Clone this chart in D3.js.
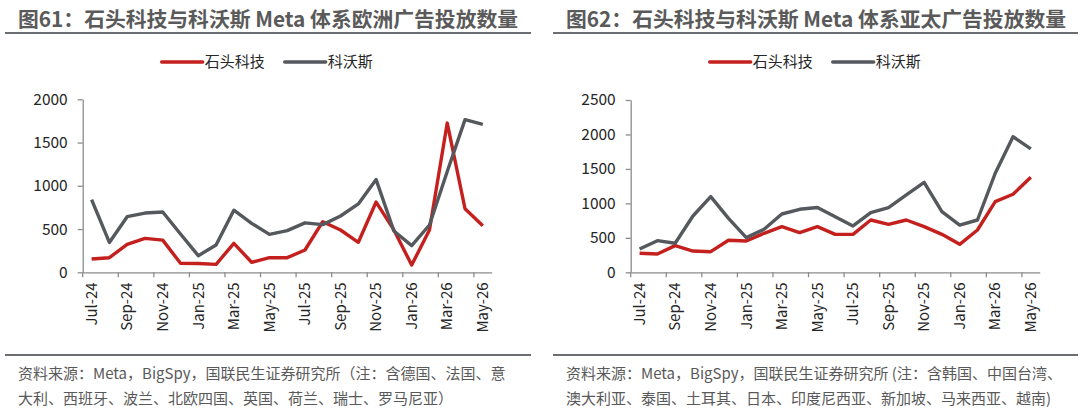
<!DOCTYPE html>
<html>
<head>
<meta charset="utf-8">
<script src="https://d3js.org/d3.v7.min.js"></script>
<style type="text/css">
    body {
        margin: 0;
        background: #ffffff;
    }

    #chart text {
        font-family: "Noto Sans CJK SC", "Noto Sans", sans-serif;
    }

    .chart-title {
        font-size: 20.8px;
        font-weight: bold;
        fill: #5a5a5a;
    }

    .chart-note {
        font-size: 15px;
        fill: #595959;
    }

    .chart-legend {
        font-size: 15px;
        fill: #262626;
    }

    .chart-axis text {
        font-size: 15.5px;
        fill: #262626;
    }

    .chart-axis path,
    .chart-axis line {
        stroke: #8c8c8c;
        stroke-width: 1.3px;
    }
</style>
</head>
<body>
<div id="chart"></div>
<script>
    // months on the x axis
    var months = ["Jul-24", "Aug-24", "Sep-24", "Oct-24", "Nov-24", "Dec-24",
        "Jan-25", "Feb-25", "Mar-25", "Apr-25", "May-25", "Jun-25",
        "Jul-25", "Aug-25", "Sep-25", "Oct-25", "Nov-25", "Dec-25",
        "Jan-26", "Feb-26", "Mar-26", "Apr-26", "May-26"];

    // Europe
    var euRoborock = [154, 169, 324, 392, 372, 104, 102, 92, 335, 116, 169, 169,
        258, 585, 489, 347, 812, 490, 84, 489, 1725, 735, 539];
    var euEcovacs = [840, 345, 643, 685, 697, 443, 192, 316, 718, 566, 439, 482,
        572, 551, 651, 790, 1072, 477, 308, 547, 1165, 1765, 1711];
    var euTicks = [0, 500, 1000, 1500, 2000];

    // Asia Pacific
    var apRoborock = [276, 266, 387, 309, 299, 465, 455, 566, 662, 575, 662, 551,
        551, 759, 696, 759, 662, 551, 406, 614, 1025, 1132, 1379];
    var apEcovacs = [338, 459, 421, 817, 1098, 783, 503, 624, 846, 914, 940, 807,
        672, 865, 938, 1122, 1306, 880, 686, 759, 1437, 1968, 1790];
    var apTicks = [0, 500, 1000, 1500, 2000, 2500];

    var seriesNames = ["石头科技", "科沃斯"];
    var color = d3.scaleOrdinal()
        .domain(seriesNames)
        .range(["#c3201e", "#55585c"]);

    var svg = d3.select("#chart")
        .append("svg")
        .attr("width", 1080)
        .attr("height", 414);

    var drawPanel = function(p) {
        var g = svg.append("g");

        // title + rules
        g.append("text")
            .attr("class", "chart-title")
            .attr("x", p.titleX)
            .attr("y", 27)
            .text(p.title);
        g.append("line")
            .attr("x1", p.ruleX1).attr("x2", p.ruleX2)
            .attr("y1", 33).attr("y2", 33)
            .attr("stroke", "#6b6e72").attr("stroke-width", 2);
        g.append("line")
            .attr("x1", p.ruleX1).attr("x2", p.ruleX2)
            .attr("y1", 355).attr("y2", 355)
            .attr("stroke", "#6b6e72").attr("stroke-width", 2);

        var x = d3.scaleBand()
            .domain(months)
            .range([p.left, p.left + 409])
            .padding(0);
        var y = d3.scaleLinear()
            .domain([0, p.ticks[p.ticks.length - 1]])
            .range([272.3, p.top]);

        // y axis
        g.append("g")
            .attr("class", "chart-axis")
            .attr("transform", "translate(" + p.left + ",0)")
            .call(d3.axisLeft(y).tickValues(p.ticks).tickFormat(d3.format("d"))
                .tickSize(5).tickSizeOuter(0).tickPadding(10));

        // x axis, labels every other month
        var xAxis = g.append("g")
            .attr("class", "chart-axis")
            .attr("transform", "translate(0,272.3)")
            .call(d3.axisBottom(x)
                .tickValues(months.filter(function(d, i) { return i % 2 == 0; }))
                .tickSize(0).tickSizeOuter(0));
        xAxis.selectAll("text")
            .attr("x", -10)
            .attr("y", 0)
            .attr("dy", "0.35em")
            .attr("transform", "rotate(-90)")
            .style("text-anchor", "end")
            .style("font-size", "15px");
        // tick marks sit between categories
        xAxis.selectAll(".between-tick")
            .data(months.filter(function(d, i) { return i % 2 == 0; }))
            .enter().append("line")
            .attr("class", "between-tick")
            .attr("x1", function(d) { return x(d); })
            .attr("x2", function(d) { return x(d); })
            .attr("y1", 0)
            .attr("y2", 5);

        // grey drawn after red, like the reference
        var line = d3.line()
            .x(function(d, i) { return x(months[i]) + x.bandwidth() / 2; })
            .y(function(d) { return y(d); });
        var series = [{ name: seriesNames[0], values: p.red }, { name: seriesNames[1], values: p.grey }];
        g.selectAll(".series")
            .data(series)
            .enter().append("path")
            .attr("class", "series")
            .attr("fill", "none")
            .attr("stroke", function(d) { return color(d.name); })
            .attr("stroke-width", 3.4)
            .attr("stroke-linejoin", "round")
            .attr("d", function(d) { return line(d.values); });

        // legend
        var lg = g.selectAll(".legend-item")
            .data(series)
            .enter().append("g")
            .attr("class", "legend-item")
            .attr("transform", function(d, i) { return "translate(" + (p.left + 79 + i * 123) + ",62)"; });
        lg.append("line")
            .attr("x1", 0).attr("x2", 41)
            .attr("stroke", function(d) { return color(d.name); })
            .attr("stroke-width", 3.4)
            .attr("stroke-linecap", "round");
        lg.append("text")
            .attr("class", "chart-legend")
            .attr("x", 43)
            .attr("dy", "0.35em")
            .text(function(d) { return d.name; });

        // source note
        g.selectAll(".chart-note")
            .data(p.note)
            .enter().append("text")
            .attr("class", "chart-note")
            .attr("x", p.titleX)
            .attr("y", function(d, i) { return 379 + i * 25; })
            .text(function(d) { return d; });
    };

    drawPanel({
        title: "图61：石头科技与科沃斯 Meta 体系欧洲广告投放数量",
        titleX: 18, ruleX1: 5, ruleX2: 531,
        left: 82.7, top: 99.3, ticks: euTicks,
        red: euRoborock, grey: euEcovacs,
        note: ["资料来源：Meta，BigSpy，国联民生证券研究所（注：含德国、法国、意",
            "大利、西班牙、波兰、北欧四国、英国、荷兰、瑞士、罗马尼亚）"]
    });

    drawPanel({
        title: "图62：石头科技与科沃斯 Meta 体系亚太广告投放数量",
        titleX: 566, ruleX1: 553, ruleX2: 1078,
        left: 630.7, top: 100, ticks: apTicks,
        red: apRoborock, grey: apEcovacs,
        note: ["资料来源：Meta，BigSpy，国联民生证券研究所 (注：含韩国、中国台湾、",
            "澳大利亚、泰国、土耳其、日本、印度尼西亚、新加坡、马来西亚、越南)"]
    });
</script>
</body>
</html>
